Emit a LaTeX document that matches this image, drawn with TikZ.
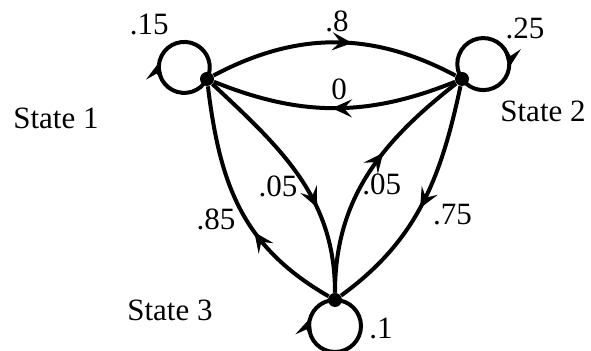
\documentclass[tikz,border=0pt]{standalone}
\usepackage{fontspec}
\setmainfont{Liberation Serif}
\usetikzlibrary{arrows.meta,decorations.markings,positioning}
\tikzset{
  every node/.style={font=\fontsize{15.5}{18}\selectfont},
  dot/.style={circle,fill=black,inner sep=0pt,minimum size=7pt},
  link/.style={line width=2pt},
  midarrow/.style={postaction={decorate,decoration={markings,
    mark=at position #1 with {\arrow{Stealth[length=10pt,width=9pt,inset=4pt]}}}}},
  prob/.style={inner sep=3.33pt},
  statename/.style={inner sep=0pt},
}
\begin{document}
\begin{tikzpicture}[x=0.5pt,y=0.5pt]
\useasboundingbox (0,0) rectangle (591,351);

% states
\node[dot] (s1) at (207,272) {};
\node[dot] (s2) at (462,272) {};
\node[dot] (s3) at (335,51) {};
\node[statename] (n1) at (56,233) {State 1};
\node[statename] (n2) at (543,240) {State 2};
\node[statename] (n3) at (170,41) {State 3};

% transitions
\draw[link,midarrow=0.57] (s1) to[bend left=28] node[prob,pos=0.51,above=1pt] (p12) {.8} (s2);
\draw[link,midarrow=0.51] (s2) to[bend left=22] node[prob,pos=0.48,above] (p21) {0} (s1);
\draw[link,midarrow=0.65] (s1) to[out=-43,in=90] node[prob,pos=0.55,left=0pt] (p13) {.05} (s3);
\draw[link,midarrow=0.6] (s3) to[out=90,in=-142] node[prob,pos=0.45,right=-4pt] (p32) {.05} (s2);
\draw[link,midarrow=0.52] (s2) to[out=-102,in=36] node[prob,pos=0.55,right=4pt] (p23) {.75} (s3);
\draw[link,midarrow=0.39] (s3) to[out=150,in=-83,looseness=1.05] node[prob,pos=0.45,left=1pt] (p31) {.85} (s1);

% self loops
\draw[link,midarrow=0.46] (s1) arc[start angle=-27,delta angle=-360,radius=12.75pt];
\draw[link,midarrow=0.62] (s2) arc[start angle=215,delta angle=-360,radius=13pt];
\draw[link,midarrow=0.8] (s3) arc[start angle=90,delta angle=-360,radius=13pt];
\node[prob,above left=16pt and 13pt of s1] (p11) {.15};
\node[prob,above right=13.7pt and 15.7pt of s2] (p22) {.25};
\node[prob,below right=2.65pt and 11pt of s3] (p33) {.1};
\end{tikzpicture}
\end{document}
